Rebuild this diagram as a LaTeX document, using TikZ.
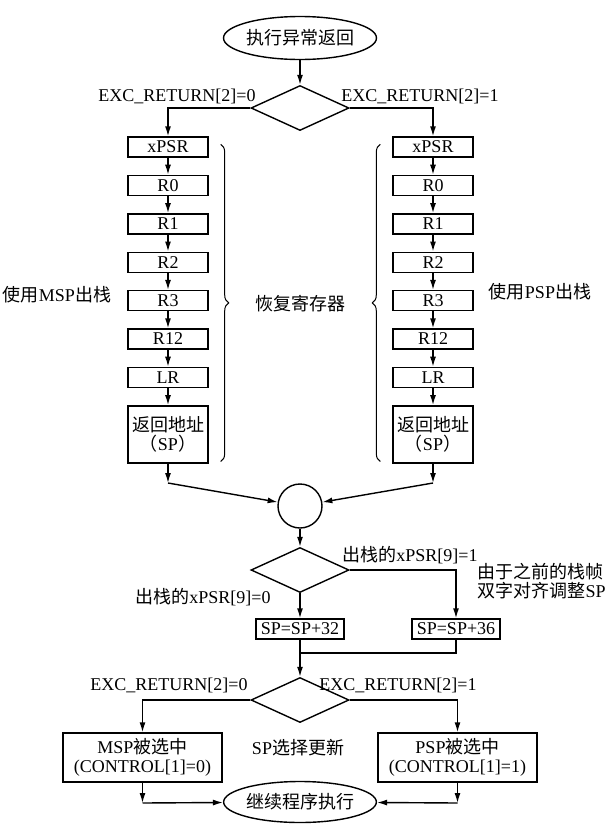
\documentclass[tikz,border=0pt]{standalone}
\usepackage{fontspec}
\setmainfont{Liberation Serif}
\newfontfamily\cjkfont{Noto Sans CJK SC}
\newcommand{\zh}[1]{{\cjkfont #1}}
\usepackage{tikz}
\usetikzlibrary{shapes.geometric, arrows.meta, positioning, decorations.pathreplacing}

\tikzset{
  arr/.style={-{Latex[length=5pt, width=3pt]}},
  terminal/.style={ellipse, draw, inner sep=0pt, minimum width=76.5pt, minimum height=21.5pt},
  decision/.style={diamond, draw, inner sep=0pt, minimum width=49pt, minimum height=22.5pt},
  stackreg/.style={rectangle, draw, inner sep=0pt, minimum width=40pt, minimum height=10pt},
  retaddr/.style={stackreg, minimum height=28.5pt, align=center},
  spbox/.style={stackreg, minimum width=44pt},
  outcome/.style={rectangle, draw, inner sep=0pt, minimum width=79.5pt, minimum height=24.5pt, align=center},
  junction/.style={circle, draw, inner sep=0pt, minimum size=22pt},
  cond/.style={inner sep=0pt},
  regbrace/.style={decorate, decoration={brace, amplitude=4pt}, line width=0.5pt}
}

\begin{document}
\begin{tikzpicture}[x=0.5pt, y=-0.5pt, node distance=8.5pt, line width=0.7pt,
  font=\fontsize{9}{9.5}\selectfont]
\useasboundingbox (0,0) rectangle (614,836);

% Exception return entry
\node[terminal] (start) at (300,38) {\zh{执行异常返回}};
\node[decision] (dreturn) at (300,108) {};
\draw[arr] (start) -- (dreturn);
\node[cond] (lmsp) at (177,96) {EXC\_RETURN[2]=0};
\node[cond] (lpsp) at (420,96) {EXC\_RETURN[2]=1};

% MSP stack frame
\node[stackreg] (xpsrM) at (168,147) {xPSR};
\node[stackreg, below=of xpsrM] (r0M) {R0};
\node[stackreg, below=of r0M] (r1M) {R1};
\node[stackreg, below=of r1M] (r2M) {R2};
\node[stackreg, below=of r2M] (r3M) {R3};
\node[stackreg, below=of r3M] (r12M) {R12};
\node[stackreg, below=of r12M] (lrM) {LR};
\node[retaddr, below=of lrM] (retM) {\zh{返回地址}\\\zh{（}SP\zh{）}};

\draw[arr] (dreturn.west) -| (xpsrM.north);
\draw[arr] (xpsrM) -- (r0M);
\draw[arr] (r0M) -- (r1M);
\draw[arr] (r1M) -- (r2M);
\draw[arr] (r2M) -- (r3M);
\draw[arr] (r3M) -- (r12M);
\draw[arr] (r12M) -- (lrM);
\draw[arr] (lrM) -- (retM);

% PSP stack frame
\node[stackreg] (xpsrP) at (433,147) {xPSR};
\node[stackreg, below=of xpsrP] (r0P) {R0};
\node[stackreg, below=of r0P] (r1P) {R1};
\node[stackreg, below=of r1P] (r2P) {R2};
\node[stackreg, below=of r2P] (r3P) {R3};
\node[stackreg, below=of r3P] (r12P) {R12};
\node[stackreg, below=of r12P] (lrP) {LR};
\node[retaddr, below=of lrP] (retP) {\zh{返回地址}\\\zh{（}SP\zh{）}};

\draw[arr] (dreturn.east) -| (xpsrP.north);
\draw[arr] (xpsrP) -- (r0P);
\draw[arr] (r0P) -- (r1P);
\draw[arr] (r1P) -- (r2P);
\draw[arr] (r2P) -- (r3P);
\draw[arr] (r3P) -- (r12P);
\draw[arr] (r12P) -- (lrP);
\draw[arr] (lrP) -- (retP);

% Braces and side notes
\draw[regbrace] ([shift={(12,8)}]xpsrM.north east) -- ([shift={(12,-2)}]retM.south east);
\draw[regbrace] ([shift={(-12,-2)}]retP.south west) -- ([shift={(-12,8)}]xpsrP.north west);
\node (restore) at (300,304) {\zh{恢复寄存器}};
\node (popM) at (57,295) {\zh{使用}MSP\zh{出栈}};
\node (popP) at (540,292) {\zh{使用}PSP\zh{出栈}};

% Merge
\coordinate (jM) at (168,483);
\coordinate (jP) at (433,483);
\node[junction] (merge) at (300,506) {};
\draw[arr] (retM) -- (jM);
\draw[arr] (jM) -- (merge);
\draw[arr] (retP) -- (jP);
\draw[arr] (jP) -- (merge);

% Stack alignment check
\node[decision] (dalign) at (300,570) {};
\draw[arr] (merge) -- (dalign);
\node[spbox] (sp32) at (300,629) {SP=SP+32};
\node[spbox] (sp36) at (456,629) {SP=SP+36};
\draw[arr] (dalign) -- (sp32);
\draw[arr] (dalign.east) -| (sp36.north);
\node[cond] (lalign1) at (410,555) {\zh{出栈的}xPSR[9]=1};
\node[cond] (lalign0) at (203,597) {\zh{出栈的}xPSR[9]=0};
\node[cond, align=left, anchor=west] (note) at (477,581) {\zh{由于之前的栈帧}\\\zh{双字对齐调整}SP};

% SP selection
\coordinate (jsp) at (300,653);
\draw (sp36.south) |- (jsp);
\node[decision] (dselect) at (300,700) {};
\draw[arr] (sp32) -- (dselect);
\node[cond] (lsel0) at (169,685) {EXC\_RETURN[2]=0};
\node[cond] (lsel1) at (398,685) {EXC\_RETURN[2]=1};
\node (spsel) at (298,748) {SP\zh{选择更新}};

\node[outcome] (mspsel) at (142.5,757.5) {MSP\zh{被选中}\\(CONTROL[1]=0)};
\node[outcome] (pspsel) at (457.5,757.5) {PSP\zh{被选中}\\(CONTROL[1]=1)};
\draw[arr] (dselect.west) -| (mspsel.north);
\draw[arr] (dselect.east) -| (pspsel.north);

% Resume
\node[terminal, minimum width=72pt, minimum height=20.5pt] (resume) at (300,802) {\zh{继续程序执行}};
\coordinate (kM) at (142.5,803);
\coordinate (kP) at (457.5,803);
\draw[arr] (mspsel) -- (kM);
\draw[arr] (kM) -- (resume);
\draw[arr] (pspsel) -- (kP);
\draw[arr] (kP) -- (resume);
\end{tikzpicture}
\end{document}
